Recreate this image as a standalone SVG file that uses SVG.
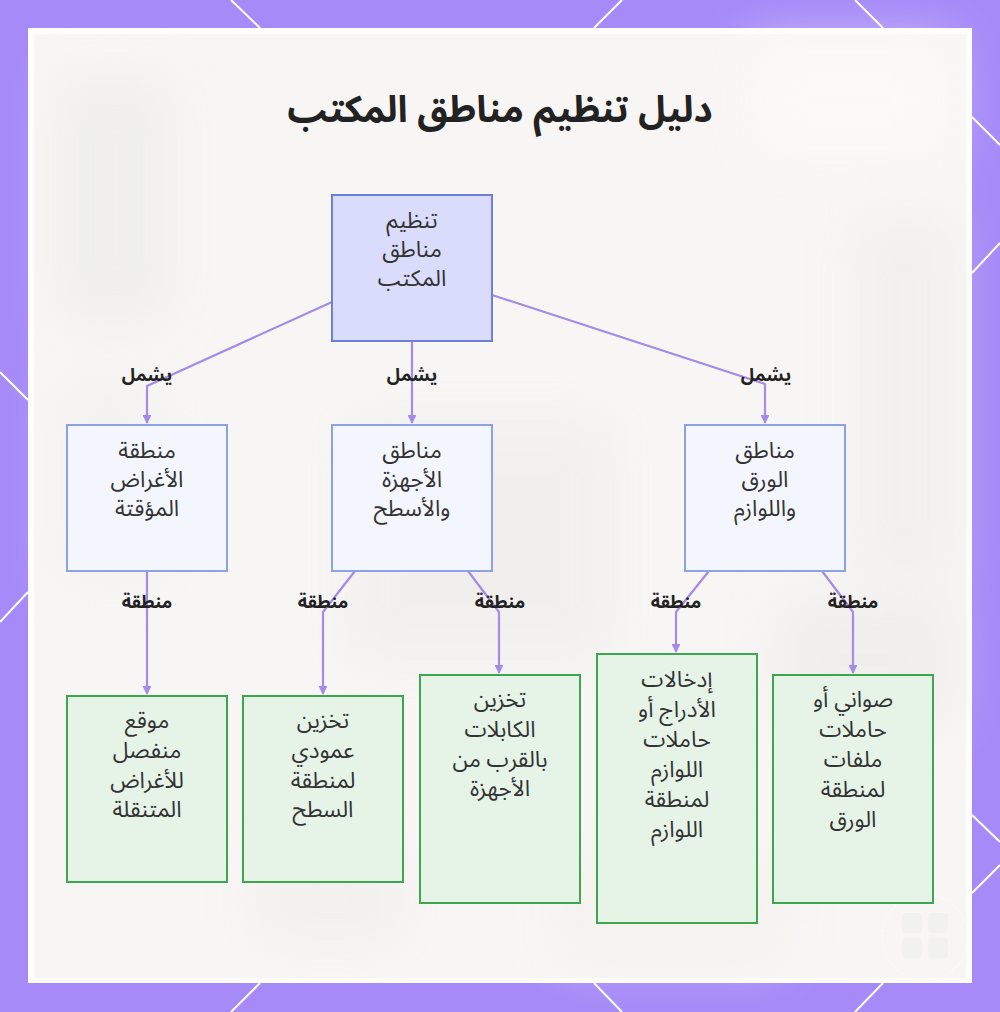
<svg xmlns="http://www.w3.org/2000/svg" width="1000" height="1012" viewBox="0 0 1000 1012">
<defs>
<style>
.t{font-family:"Noto Sans Arabic","Noto Sans","DejaVu Sans",sans-serif;text-anchor:middle;dominant-baseline:central;fill:#333;font-size:22.5px}
.lbl{font-family:"Noto Sans Arabic","Noto Sans","DejaVu Sans",sans-serif;text-anchor:middle;dominant-baseline:central;fill:#222;font-size:18px;font-weight:bold}
.title{font-family:"Noto Sans Arabic","Noto Sans","DejaVu Sans",sans-serif;text-anchor:middle;fill:#222;font-size:37px;font-weight:bold}
.root{fill:#d9dcfb;stroke:#6f7fd6;stroke-width:2}
.mid{fill:#f4f6fd;stroke:#8da2e6;stroke-width:2}
.leaf{fill:#e6f4e8;stroke:#3ea64e;stroke-width:2}
.e{fill:none;stroke:#a48be8;stroke-width:2.2;stroke-linejoin:round}
.bl{stroke:#ffffff;stroke-width:2}
</style>
<marker id="ah" viewBox="0 0 10 10" refX="9" refY="5" markerWidth="4" markerHeight="4" orient="auto">
<path d="M0,0 L10,5 L0,10 z" fill="#a48be8"/>
</marker>
<filter id="blur" x="-30%" y="-30%" width="160%" height="160%"><feGaussianBlur stdDeviation="24"/></filter>
</defs>
<rect x="0" y="0" width="1000" height="1012" fill="#a68bf8"/>
<g class="bl">
<line x1="231" y1="0" x2="260" y2="28"/>
<line x1="622" y1="0" x2="594" y2="28"/>
<line x1="855" y1="0" x2="883" y2="28"/>
<line x1="231" y1="1012" x2="260" y2="983"/>
<line x1="622" y1="1012" x2="594" y2="983"/>
<line x1="855" y1="1012" x2="883" y2="983"/>
<line x1="0" y1="372" x2="28" y2="400"/>
<line x1="0" y1="622" x2="28" y2="592"/>
<line x1="1000" y1="145" x2="972" y2="117"/>
<line x1="1000" y1="243" x2="972" y2="273"/>
<line x1="1000" y1="842" x2="972" y2="815"/>
<line x1="1000" y1="865" x2="972" y2="893"/>
</g>
<rect x="28" y="28" width="944" height="955" fill="#fdfdfd"/>
<rect x="34" y="34" width="932" height="944" fill="#f7f6f4"/>
<g filter="url(#blur)" opacity="0.55">
<rect x="60" y="80" width="110" height="240" fill="#e9e9e6"/>
<rect x="750" y="40" width="200" height="120" fill="#fdfdfc"/>
<rect x="860" y="220" width="90" height="360" fill="#ecebe8"/>
<rect x="780" y="600" width="170" height="120" fill="#e9e8e5"/>
<rect x="60" y="380" width="100" height="200" fill="#f0efec"/>
<rect x="260" y="860" width="140" height="80" fill="#ebebea"/>
<rect x="560" y="860" width="220" height="100" fill="#f3efea"/>
<rect x="350" y="420" width="260" height="240" fill="#ecebe9"/>
</g>
<g id="watermark" opacity="0.6">
<circle cx="925" cy="937" r="43" fill="none" stroke="#ffffff" stroke-width="1.2" stroke-dasharray="2 2"/>
<g fill="#eeeeee">
<rect x="902" y="913" width="20" height="20" rx="4"/>
<rect x="928" y="913" width="20" height="20" rx="4"/>
<rect x="902" y="938" width="20" height="20" rx="4"/>
<rect x="928" y="938" width="20" height="20" rx="4"/>
</g>
</g>
<text class="title" x="500" y="122" direction="rtl">دليل تنظيم مناطق المكتب</text>
<g id="connectors">
<polyline class="e" points="332,302 147,386 147,423" marker-end="url(#ah)"/>
<polyline class="e" points="412,341 412,423" marker-end="url(#ah)"/>
<polyline class="e" points="492,295 765,384 765,423" marker-end="url(#ah)"/>
<polyline class="e" points="147,571 147,694" marker-end="url(#ah)"/>
<polyline class="e" points="355,571 323,612 323,694" marker-end="url(#ah)"/>
<polyline class="e" points="468,571 499,612 499,673" marker-end="url(#ah)"/>
<polyline class="e" points="709,571 676,612 676,652" marker-end="url(#ah)"/>
<polyline class="e" points="822,571 853,612 853,673" marker-end="url(#ah)"/>
<g class="lbl">
<text x="147" y="375" direction="rtl">يشمل</text>
<text x="412" y="375" direction="rtl">يشمل</text>
<text x="766" y="375" direction="rtl">يشمل</text>
<text x="147" y="602" direction="rtl">منطقة</text>
<text x="323" y="602" direction="rtl">منطقة</text>
<text x="500" y="602" direction="rtl">منطقة</text>
<text x="676" y="602" direction="rtl">منطقة</text>
<text x="853" y="602" direction="rtl">منطقة</text>
</g>
</g>
<g id="root">
<rect class="root" x="332" y="195" width="160" height="146"/>
<text class="t" direction="rtl"><tspan x="412" y="221">تنظيم</tspan><tspan x="412" y="250">مناطق</tspan><tspan x="412" y="279">المكتب</tspan></text>
</g>
<g id="temp">
<rect class="mid" x="67" y="425" width="160" height="146"/>
<text class="t" direction="rtl"><tspan x="147" y="451">منطقة</tspan><tspan x="147" y="480">الأغراض</tspan><tspan x="147" y="509">المؤقتة</tspan></text>
</g>
<g id="devices">
<rect class="mid" x="332" y="425" width="160" height="146"/>
<text class="t" direction="rtl"><tspan x="412" y="451">مناطق</tspan><tspan x="412" y="480">الأجهزة</tspan><tspan x="412" y="509">والأسطح</tspan></text>
</g>
<g id="paper">
<rect class="mid" x="685" y="425" width="160" height="146"/>
<text class="t" direction="rtl"><tspan x="765" y="451">مناطق</tspan><tspan x="765" y="480">الورق</tspan><tspan x="765" y="509">واللوازم</tspan></text>
</g>
<g id="leaf1">
<rect class="leaf" x="67" y="696" width="160" height="186"/>
<text class="t" direction="rtl"><tspan x="147" y="721">موقع</tspan><tspan x="147" y="751">منفصل</tspan><tspan x="147" y="781">للأغراض</tspan><tspan x="147" y="810">المتنقلة</tspan></text>
</g>
<g id="leaf2">
<rect class="leaf" x="243" y="696" width="160" height="186"/>
<text class="t" direction="rtl"><tspan x="323" y="721">تخزين</tspan><tspan x="323" y="751">عمودي</tspan><tspan x="323" y="781">لمنطقة</tspan><tspan x="323" y="810">السطح</tspan></text>
</g>
<g id="leaf3">
<rect class="leaf" x="420" y="675" width="160" height="228"/>
<text class="t" direction="rtl"><tspan x="500" y="700">تخزين</tspan><tspan x="500" y="730">الكابلات</tspan><tspan x="500" y="760">بالقرب من</tspan><tspan x="500" y="789">الأجهزة</tspan></text>
</g>
<g id="leaf4">
<rect class="leaf" x="597" y="654" width="160" height="269"/>
<text class="t" direction="rtl"><tspan x="677" y="680">إدخالات</tspan><tspan x="677" y="710">الأدراج أو</tspan><tspan x="677" y="740">حاملات</tspan><tspan x="677" y="770">اللوازم</tspan><tspan x="677" y="800">لمنطقة</tspan><tspan x="677" y="830">اللوازم</tspan></text>
</g>
<g id="leaf5">
<rect class="leaf" x="773" y="675" width="160" height="228"/>
<text class="t" direction="rtl"><tspan x="853" y="700">صواني أو</tspan><tspan x="853" y="730">حاملات</tspan><tspan x="853" y="760">ملفات</tspan><tspan x="853" y="790">لمنطقة</tspan><tspan x="853" y="820">الورق</tspan></text>
</g>
</svg>
